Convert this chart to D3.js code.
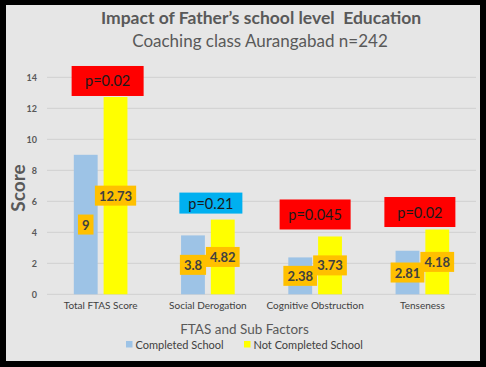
<!DOCTYPE html>
<html><head><meta charset="utf-8">
<script src="https://cdn.jsdelivr.net/npm/d3@7/dist/d3.min.js"></script>
<style>html,body{margin:0;padding:0;background:#000;}svg{display:block;}</style>
</head><body>
<script>
const categories = ["Total FTAS Score", "Social Derogation", "Cognitive Obstruction", "Tenseness"];
const seriesNames = ["Completed School", "Not Completed School"];
const completed = [9, 3.8, 2.38, 2.81];
const notCompleted = [12.73, 4.82, 3.73, 4.18];
const pLabels = ["p=0.02", "p=0.21", "p=0.045", "p=0.02"];
const pColors = ["#FF0000", "#00B0F0", "#FF0000", "#FF0000"];
const yTicks = [0, 2, 4, 6, 8, 10, 12, 14];
const seriesColors = ["#9DC3E6", "#FFFF00"];

const W = 486, H = 367;
const font = "Lato, 'Open Sans', sans-serif";
const svg = d3.select("body").append("svg").attr("width", W).attr("height", H);
svg.append("rect").attr("width", W).attr("height", H).attr("fill", "#000");
svg.append("rect").attr("x", 6).attr("y", 5).attr("width", 474).attr("height", 356).attr("fill", "#E6E6E6");

const plot = {left: 47, right: 476, top: 77.3, bottom: 294.3};
const y = d3.scaleLinear().domain([0, 14]).range([plot.bottom, plot.top]);
const x0 = d3.scaleBand().domain(categories).range([plot.left, plot.right]).paddingInner(0.5).paddingOuter(0.25);
const x1 = d3.scaleBand().domain(seriesNames).range([0, x0.bandwidth()]).paddingInner(0.2);

// gridlines
svg.append("g").selectAll("line").data(yTicks).join("line")
  .attr("x1", plot.left).attr("x2", plot.right)
  .attr("y1", d => y(d)).attr("y2", d => y(d))
  .attr("stroke", "#D0D0D0").attr("stroke-width", 1);

// y axis labels
const yAxis = d3.axisLeft(y).tickValues(yTicks).tickSize(0).tickPadding(0);
const ya = svg.append("g").attr("transform", `translate(37,0)`).call(yAxis);
ya.select(".domain").remove();
ya.selectAll("text").attr("font-family", font).attr("font-size", 9).attr("font-weight", "bold").attr("fill", "#595959");

// x axis labels
const xAxis = d3.axisBottom(x0).tickSize(0).tickPadding(0);
const xa = svg.append("g").attr("transform", `translate(0,302)`).call(xAxis);
xa.select(".domain").remove();
xa.selectAll("text").attr("font-family", font).attr("font-size", 10).attr("fill", "#404040");

const rows = categories.map((c, i) => ({c, i, vals: [completed[i], notCompleted[i]]}));

const groups = svg.append("g").selectAll("g").data(rows).join("g")
  .attr("transform", d => `translate(${x0(d.c)},0)`);

groups.selectAll("rect.bar").data(d => d.vals.map((v, k) => ({v, k, s: seriesNames[k]}))).join("rect")
  .attr("class", "bar")
  .attr("x", d => x1(d.s)).attr("width", x1.bandwidth())
  .attr("y", d => y(d.v)).attr("height", d => y(0) - y(d.v))
  .attr("fill", d => seriesColors[d.k]);

// data labels (centered)
groups.each(function(d) {
  const g = d3.select(this);
  d.vals.forEach((v, k) => {
    const cx = x1(seriesNames[k]) + x1.bandwidth() / 2;
    const cy = y(v / 2);
    const t = g.append("text").attr("x", cx).attr("y", cy)
      .attr("text-anchor", "middle").attr("dominant-baseline", "central")
      .attr("font-family", font).attr("font-size", 13).attr("font-weight", "bold").attr("fill", "#404040")
      .text(v);
    const w = t.node().getComputedTextLength();
    g.insert("rect", () => t.node())
      .attr("x", cx - w / 2 - 4).attr("y", cy - 10).attr("width", w + 8).attr("height", 20)
      .attr("fill", "#FFC000");
  });
});

// p-value boxes
const pGap = [1, 6, 7, 2.5];
const pSize = [[72, 30], [63, 21], [71, 30], [71, 30]];
const pShift = [7, 3, 0, -2.5];
rows.forEach((d, i) => {
  const cx = x0(d.c) + x0.bandwidth() / 2 + pShift[i];
  const bottom = y(d3.max(d.vals)) - pGap[i];
  const [w, h] = pSize[i];
  svg.append("rect").attr("x", cx - w / 2).attr("y", bottom - h).attr("width", w).attr("height", h).attr("fill", pColors[i]);
  svg.append("text").attr("x", cx).attr("y", bottom - h / 2)
    .attr("text-anchor", "middle").attr("dominant-baseline", "central")
    .attr("font-family", font).attr("font-size", 14.5).attr("fill", "#1a1a1a").text(pLabels[i]);
});

// titles
svg.append("text").attr("x", 261).attr("y", 17.5).attr("text-anchor", "middle").attr("dominant-baseline", "central")
  .attr("font-family", font).attr("font-size", 17.5).attr("font-weight", "bold").attr("fill", "#595959")
  .style("white-space", "pre")
  .text("Impact of Father\u2019s school level  Education");
svg.append("text").attr("x", 260).attr("y", 40).attr("text-anchor", "middle").attr("dominant-baseline", "central")
  .attr("font-family", font).attr("font-size", 17).attr("fill", "#595959")
  .text("Coaching class Aurangabad n=242");

// axis titles
svg.append("text").attr("transform", "translate(17,188) rotate(-90)").attr("text-anchor", "middle").attr("dominant-baseline", "central")
  .attr("font-family", font).attr("font-size", 19).attr("font-weight", "bold").attr("fill", "#595959").text("Score");
svg.append("text").attr("x", 244.5).attr("y", 329).attr("text-anchor", "middle").attr("dominant-baseline", "central")
  .attr("font-family", font).attr("font-size", 13.5).attr("fill", "#595959").text("FTAS and Sub Factors");

// legend
const legendX = [126, 244];
seriesNames.forEach((s, k) => {
  svg.append("rect").attr("x", legendX[k]).attr("y", 341).attr("width", 6.5).attr("height", 6.5).attr("fill", seriesColors[k]);
  svg.append("text").attr("x", legendX[k] + 9.5).attr("y", 344).attr("dominant-baseline", "central")
    .attr("font-family", font).attr("font-size", 11).attr("fill", "#404040").text(s);
});
</script>
</body></html>
